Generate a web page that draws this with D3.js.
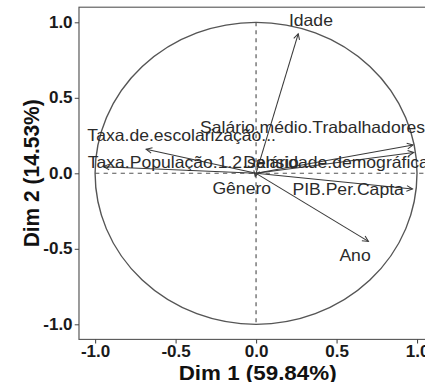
<!DOCTYPE html>
<html>
<head>
<meta charset="utf-8">
<script src="https://cdn.jsdelivr.net/npm/d3@7"></script>
<style>
  body { margin: 0; background: #fff; }
  svg { display: block; }
</style>
</head>
<body>
<div id="chart"></div>
<script>
// variable names and coordinates on Dim 1 / Dim 2
const variables = ["Idade", "Salário.médio.Trabalhadores", "Densidade.demográfica",
  "PIB.Per.Capta", "Ano", "Taxa.de.escolarização...", "Taxa.População.1.2.salário", "Gênero"];
const dim1 = [0.262, 0.975, 0.980, 0.972, 0.698, -0.683, -0.948, -0.005];
const dim2 = [0.924, 0.187, 0.138, -0.104, -0.451, 0.160, 0.044, -0.020];
// where the (repelled) labels ended up
const labelX = [0.341, 0.351, 0.497, 0.572, 0.615, -0.462, -0.390, -0.089];
const labelY = [1.012, 0.308, 0.073, -0.104, -0.539, 0.253, 0.077, -0.099];

const ticks = [-1.0, -0.5, 0.0, 0.5, 1.0];
const xTitle = "Dim 1 (59.84%)";
const yTitle = "Dim 2 (14.53%)";

// the reference is stretched horizontally, so draw in a narrower box and stretch it
const W = 425, H = 382, stretch = 1.066;
const vw = W / stretch;

const svg = d3.select("#chart")
  .append("svg")
  .attr("width", W)
  .attr("height", H)
  .attr("viewBox", `0 0 ${vw} ${H}`)
  .attr("preserveAspectRatio", "none");

const x = d3.scaleLinear().domain([-1.1, 1.1]).range([74.1, 406.3]);
const y = d3.scaleLinear().domain([-1.1, 1.1]).range([339.4, 7.2]);

const font = "'Liberation Sans', Arial, sans-serif";

svg.append("defs").append("marker")
  .attr("id", "head")
  .attr("markerUnits", "userSpaceOnUse")
  .attr("markerWidth", 12).attr("markerHeight", 12)
  .attr("viewBox", "-8 -6 12 12")
  .attr("refX", 0).attr("refY", 0)
  .attr("orient", "auto")
  .append("path")
  .attr("d", "M-5.5,-2.8L0,0L-5.5,2.8")
  .attr("fill", "none")
  .attr("stroke", "#3a3a3a")
  .attr("stroke-width", 1);

// panel border
svg.append("rect")
  .attr("x", x(-1.1)).attr("y", y(1.1))
  .attr("width", x(1.1) - x(-1.1)).attr("height", y(-1.1) - y(1.1))
  .attr("fill", "none")
  .attr("stroke", "#555")
  .attr("stroke-width", 1.1);

// axes
const xAxis = svg.append("g")
  .attr("transform", `translate(0,${y(-1.1)})`)
  .call(d3.axisBottom(x).tickValues(ticks).tickSizeOuter(0).tickSize(4).tickPadding(2));
const yAxis = svg.append("g")
  .attr("transform", `translate(${x(-1.1)},0)`)
  .call(d3.axisLeft(y).tickValues(ticks).tickSizeOuter(0).tickSize(4).tickPadding(2));

[xAxis, yAxis].forEach(a => {
  a.select(".domain").remove();
  a.selectAll(".tick line").attr("stroke", "#444");
  a.selectAll(".tick text")
    .attr("fill", "#1a1a1a")
    .style("font-family", font)
    .style("font-size", "16px")
    .style("font-weight", "bold")
    .text(d => d.toFixed(1));
});

// dashed reference lines
svg.append("line")
  .attr("x1", x(-1)).attr("x2", x(1.1))
  .attr("y1", y(0)).attr("y2", y(0))
  .attr("stroke", "#555").attr("stroke-width", 1.1)
  .attr("stroke-dasharray", "4,4");
svg.append("line")
  .attr("x1", x(0)).attr("x2", x(0))
  .attr("y1", y(1)).attr("y2", y(-1))
  .attr("stroke", "#555").attr("stroke-width", 1.1)
  .attr("stroke-dasharray", "4,4");

// correlation circle
svg.append("circle")
  .attr("cx", x(0)).attr("cy", y(0))
  .attr("r", x(1) - x(0))
  .attr("fill", "none")
  .attr("stroke", "#555")
  .attr("stroke-width", 1.3);

// arrows
svg.selectAll("line.arrow")
  .data(variables)
  .enter()
  .append("line")
  .attr("class", "arrow")
  .attr("x1", x(0)).attr("y1", y(0))
  .attr("x2", (d, i) => x(dim1[i]))
  .attr("y2", (d, i) => y(dim2[i]))
  .attr("stroke", "#3a3a3a")
  .attr("stroke-width", 1)
  .attr("marker-end", "url(#head)");

// labels
svg.selectAll("text.var")
  .data(variables)
  .enter()
  .append("text")
  .attr("class", "var")
  .attr("x", (d, i) => x(labelX[i]))
  .attr("y", (d, i) => y(labelY[i]))
  .attr("dy", "0.36em")
  .attr("text-anchor", "middle")
  .attr("fill", "#2b2b2b")
  .style("font-family", font)
  .style("font-size", "16.5px")
  .text(d => d);

// axis titles
svg.append("text")
  .attr("x", x(0) + 1.5)
  .attr("y", 380)
  .attr("text-anchor", "middle")
  .attr("fill", "#111")
  .style("font-family", font)
  .style("font-size", "21px")
  .style("font-weight", "bold")
  .text(xTitle);

svg.append("text")
  .attr("transform", `translate(36.3,${y(0)}) rotate(-90)`)
  .attr("text-anchor", "middle")
  .attr("fill", "#111")
  .style("font-family", font)
  .style("font-size", "21px")
  .style("font-weight", "bold")
  .text(yTitle);
</script>
</body>
</html>
